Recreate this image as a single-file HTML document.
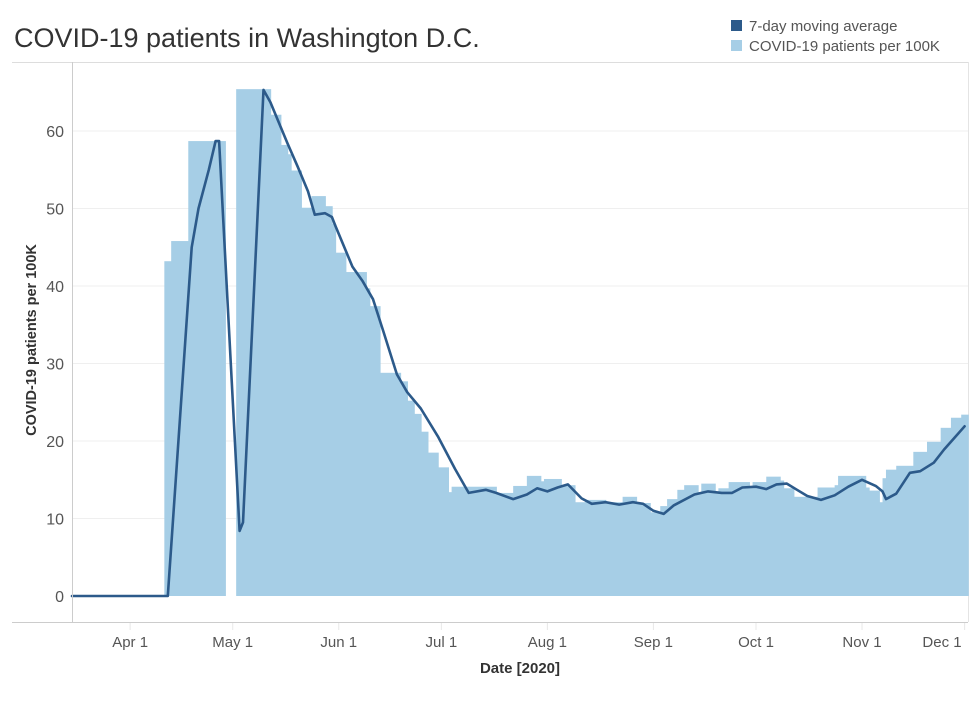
<!DOCTYPE html>
<html><head><meta charset="utf-8"><style>
body{margin:0;background:#fff;width:980px;height:699px;overflow:hidden;font-family:"Liberation Sans",sans-serif;}
</style></head><body>
<svg id="chart" width="980" height="699" xmlns="http://www.w3.org/2000/svg" font-family="Liberation Sans, sans-serif"></svg>
<script>
// Bars: start day (days since 2020-03-15) and value; each bar lasts until next start
const barStarts = [0,27,29,34,45,48,58,61,63,64,67,70,74,76,77,80,86,87,90,96,98,100,102,104,107,110,111,116,124,129,133,137,138,143,147,150,156,161,165,169,172,174,177,179,183,184,188,189,192,198,199,203,207,208,211,218,223,224,232,233,236,237,238,241,246,250,254,257,260];
const barValues = [0,43.2,45.8,58.7,0,65.4,62.1,58.2,57,54.9,50.1,51.6,50.3,48,44.3,41.8,39.7,37.4,28.8,27.7,25.2,23.5,21.2,18.5,16.6,13.4,14.1,14.1,13.3,14.2,15.5,14.8,15.1,14.3,12.1,12.4,12.1,12.8,12.0,10.8,11.6,12.5,13.7,14.3,13.4,14.5,13.3,13.9,14.7,14.0,14.7,15.4,14.9,13.9,12.8,14.0,14.3,15.5,14.0,13.6,12.1,15.2,16.3,16.8,18.6,19.9,21.7,23.0,23.4];
const lastDay = 262;
// 7-day moving average
const maDays = [0,28,35,37,40,42,43,49,50,56,58,63,66,69,71,74,76,77,82,85,88,91,95,98,102,107,112,116,121,124,129,133,136,139,142,145,149,152,156,160,164,167,170,173,176,182,186,190,193,196,200,203,206,209,212,215,219,223,227,231,235,237,238,241,245,248,252,255,258,261];
const maValues = [0,0,45,50,55,58.7,58.7,8.4,9.5,65.3,63.7,58.4,55.4,52.2,49.2,49.4,48.9,47.8,42.5,40.6,38.3,34.2,28.6,26.3,24.2,20.6,16.4,13.3,13.7,13.3,12.5,13.1,13.9,13.5,14.0,14.4,12.6,11.9,12.1,11.8,12.1,11.9,11.0,10.6,11.7,13.1,13.5,13.3,13.3,14.0,14.1,13.8,14.4,14.5,13.7,12.9,12.4,13.0,14.1,15.0,14.2,13.5,12.5,13.2,15.9,16.1,17.2,18.9,20.4,21.9];
const yTicks = [0,10,20,30,40,50,60];
const xTickDays = [17,47,78,108,139,170,200,231,261];
const xTickLabels = ["Apr 1","May 1","Jun 1","Jul 1","Aug 1","Sep 1","Oct 1","Nov 1","Dec 1"];

const svg = document.getElementById('chart');
const NS = 'http://www.w3.org/2000/svg';
const X0 = 72, PX_DAY = 3.42, Y0 = 596, PX_UNIT = 7.75, XMAX = 968;
const xs = d => X0 + d * PX_DAY;
const ys = v => Y0 - v * PX_UNIT;
function mk(tag, attrs, text) {
  const e = document.createElementNS(NS, tag);
  for (const k in attrs) e.setAttribute(k, attrs[k]);
  if (text !== undefined) e.textContent = text;
  svg.appendChild(e);
  return e;
}
let e;
e = mk('text', {x:14, y:47, 'font-size':27, fill:'#333'}, 'COVID-19 patients in Washington D.C.');


e = mk('rect', {x:731, y:20, width:11, height:11, fill:'#2c5a8a'});


e = mk('text', {x:749, y:31, 'font-size':15, fill:'#555'}, '7-day moving average');


e = mk('rect', {x:731, y:40, width:11, height:11, fill:'#a6cee6'});


e = mk('text', {x:749, y:51, 'font-size':15, fill:'#555'}, 'COVID-19 patients per 100K');


e = mk('line', {x1:12, y1:62.5, x2:968, y2:62.5, stroke:'#ddd', 'stroke-width':1});


e = mk('line', {x1:968.5, y1:62, x2:968.5, y2:622, stroke:'#e4e4e4', 'stroke-width':1});


yTicks.forEach(t => {
  if (t > 0) {
    e = mk('line', {x1:72, y1:ys(t), x2:968, y2:ys(t), stroke:'#efefef', 'stroke-width':1});
    
    
  }
  e = mk('text', {x:64, y:ys(t)+6, 'font-size':16, fill:'#555', 'text-anchor':'end'}, String(t));
  
  
});
barStarts.forEach((s, i) => {
  const end = i + 1 < barStarts.length ? barStarts[i+1] : lastDay;
  const v = barValues[i];
  if (v <= 0) return;
  const x1 = xs(s), x2 = Math.min(xs(end), XMAX);
  const nextZero = i + 1 < barValues.length && barValues[i+1] <= 0;
  e = mk('rect', {x:x1, y:ys(v), width:(x2 - x1) + (nextZero ? 0 : 0.8), height:ys(0)-ys(v), fill:'#a6cee6'});
  
  
});
const pts = maDays.map((d, i) => xs(d).toFixed(1) + ',' + ys(maValues[i]).toFixed(1)).join(' ');
e = mk('polyline', {points:pts, fill:'none', stroke:'#2c5a8a', 'stroke-width':2.6, 'stroke-linejoin':'round', 'stroke-linecap':'round'});


e = mk('line', {x1:72.5, y1:62, x2:72.5, y2:622, stroke:'#ccc', 'stroke-width':1});


e = mk('line', {x1:12, y1:622.5, x2:968, y2:622.5, stroke:'#ccc', 'stroke-width':1});


xTickDays.forEach((d, i) => {
  e = mk('line', {x1:xs(d), y1:623, x2:xs(d), y2:630, stroke:'#e8e8e8', 'stroke-width':1});
  
  
  const lx = Math.min(xs(d), 942);
  e = mk('text', {x:lx, y:647, 'font-size':15, fill:'#555', 'text-anchor':'middle'}, xTickLabels[i]);
  
  
});
e = mk('text', {x:520, y:673, 'font-size':15, 'font-weight':'bold', fill:'#333', 'text-anchor':'middle'}, 'Date [2020]');


e = mk('text', {x:0, y:0, 'font-size':14.5, 'font-weight':'bold', fill:'#333', 'text-anchor':'middle', transform:'translate(36,340) rotate(-90)'}, 'COVID-19 patients per 100K');


</script>
</body></html>
